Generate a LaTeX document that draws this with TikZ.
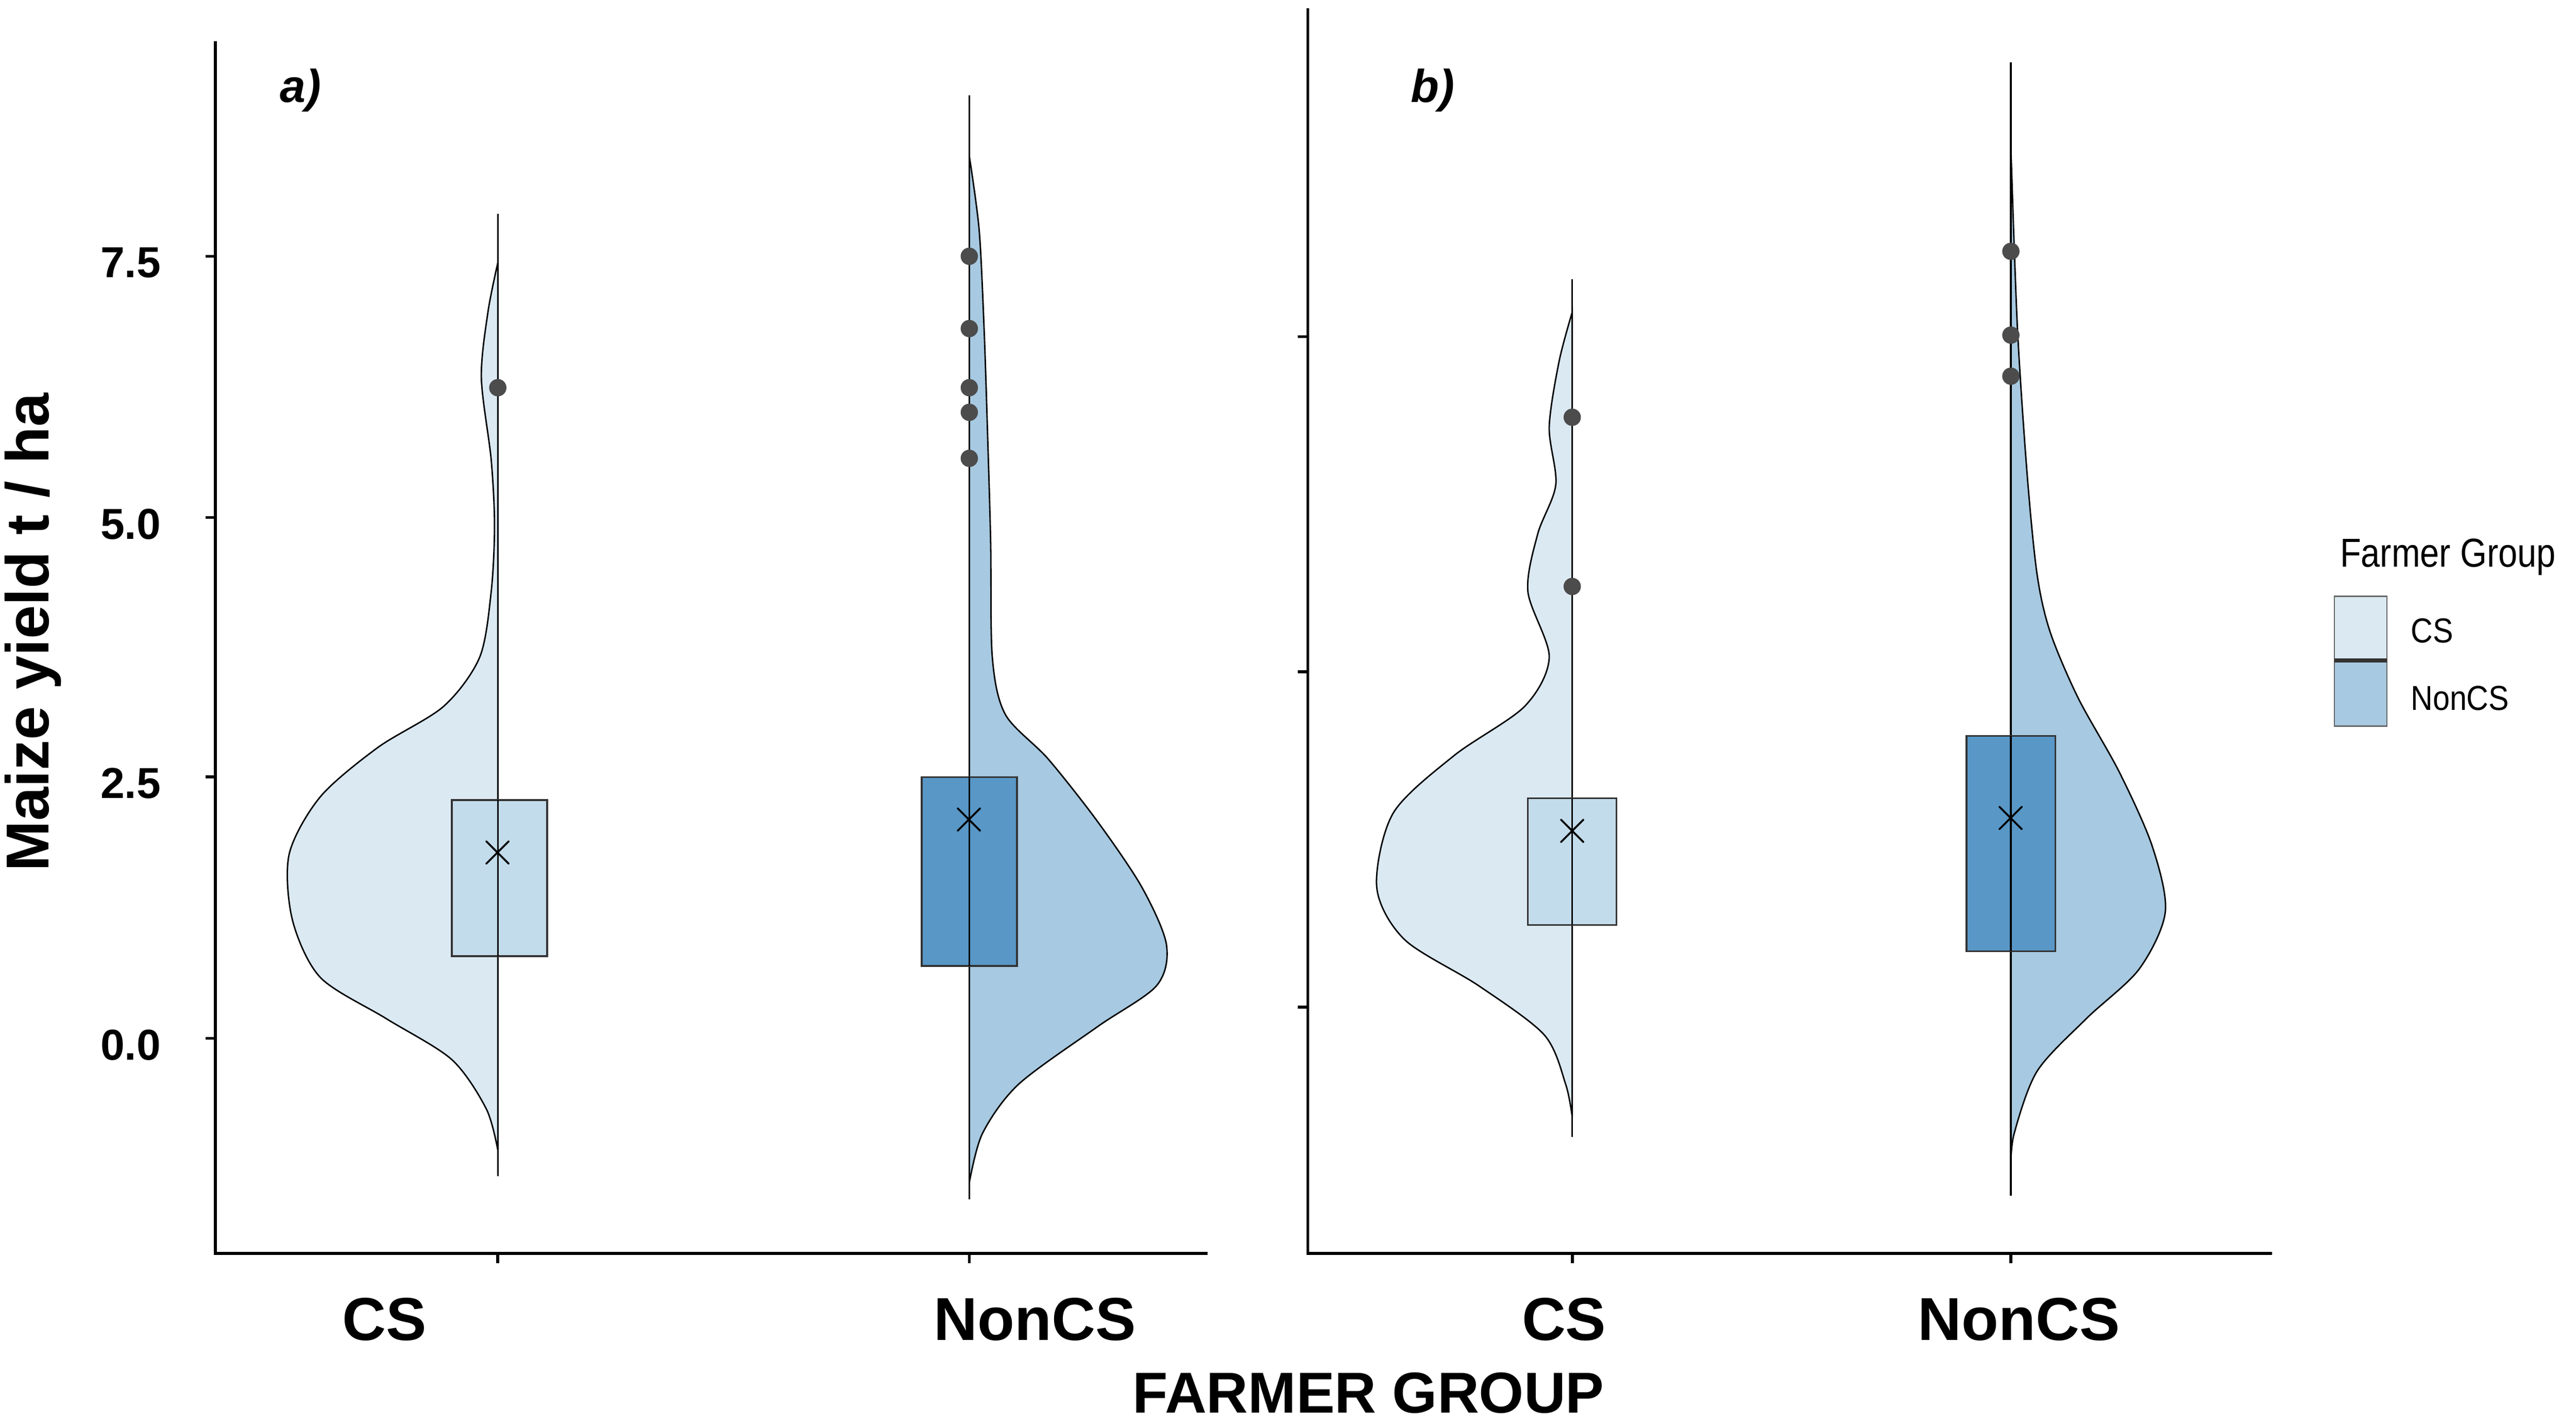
\documentclass[tikz,border=0pt]{standalone}
\usepackage{fontspec}
\setmainfont{Liberation Sans}
\begin{document}
\begin{tikzpicture}[x=0.02cm,y=-0.02cm,
  axis/.style={line width=1pt,black},
  lcs/.style={fill=cslight,draw=black,line width=0.5pt},
  lnon/.style={fill=nonlight,draw=black,line width=0.5pt},
  boxcs/.style={fill=csbox,draw=black!80,line width=0.6pt},
  boxnon/.style={fill=nonbox,draw=black!80,line width=0.6pt},
  pt/.style={circle,fill=black!70,inner sep=0pt,minimum size=6pt},
  cr/.style={inner sep=0pt,font=\fontsize{16}{16}\selectfont},
  tick/.style={font=\bfseries\fontsize{15}{15}\selectfont,anchor=east},
  xl/.style={font=\bfseries\fontsize{21}{21}\selectfont},
  leg/.style={font=\fontsize{12}{12}\selectfont,anchor=west,xscale=0.88}]
\definecolor{cslight}{HTML}{DBE9F3}
\definecolor{nonlight}{HTML}{A7C9E1}
\definecolor{csbox}{HTML}{C3DCEB}
\definecolor{nonbox}{HTML}{5897C6}
\useasboundingbox (0,0) rectangle (1568,868);
% panel a axes
\draw[axis] (131,25) -- (131,763) -- (735,763);
\foreach \y/\t in {156/7.5,315/5.0,473/2.5,632/0.0}{\draw[axis] (125,\y)--(131,\y); \node[tick] at (104,\y+4) {\t};}
\draw[axis] (303,763)--(303,769); \draw[axis] (590,763)--(590,769);
% panel b axes
\draw[axis] (796,5) -- (796,763) -- (1383,763);
\foreach \y in {205,409,613}{\draw[axis] (790,\y)--(796,\y);}
\draw[axis] (957,763)--(957,769); \draw[axis] (1224,763)--(1224,769);
% a CS
\draw[lcs] plot[smooth] coordinates {(303,160)(297,190)(293,230)(299,280)(301,320)(299,360)(292,400)(270,430)(230,455)(195,485)(176,520)(178,560)(195,595)(235,620)(275,645)(296,675)(303,700)} -- cycle;
\draw[line width=0.6pt] (303,130)--(303,716);
\draw[boxcs] (275,487) rectangle (333,582);
\draw[line width=0.6pt] (303,487)--(303,582);
\node[cr] (ca) at (303,519) {$\times$};
\node[pt] (pa1) at (303,236) {};
% a NonCS
\draw[lnon] plot[smooth] coordinates {(590,95)(596,140)(599,200)(601,260)(603,330)(604,400)(612,435)(638,462)(668,500)(695,540)(710,575)(704,600)(668,625)(620,660)(598,690)(590,720)} -- cycle;
\draw[line width=0.6pt] (590,58)--(590,730);
\draw[boxnon] (561,473) rectangle (619,588);
\draw[line width=0.6pt] (590,473)--(590,588);
\node[cr] (na) at (590,499) {$\times$};
\foreach \y [count=\i] in {156,200,236,251,279}{\node[pt] (pn\i) at (590,\y) {};}
% b CS
\draw[lcs] plot[smooth] coordinates {(957,190)(949,220)(943,260)(947,295)(936,325)(930,360)(943,400)(928,430)(885,460)(848,495)(838,540)(855,572)(900,600)(940,630)(953,660)(957,680)} -- cycle;
\draw[line width=0.6pt] (957,170)--(957,692);
\draw[boxcs] (930,486) rectangle (984,563);
\draw[line width=0.6pt] (957,486)--(957,563);
\node[cr] (cb) at (957,506) {$\times$};
\node[pt] (pb1) at (957,254) {};
\node[pt] (pb2) at (957,357) {};
% b NonCS
\draw[lnon] plot[smooth] coordinates {(1224,90)(1228,200)(1234,290)(1240,350)(1248,385)(1265,425)(1290,470)(1310,515)(1318,555)(1302,590)(1270,620)(1240,652)(1226,690)(1224,710)} -- cycle;
\draw[line width=0.6pt] (1224,38)--(1224,728);
\draw[boxnon] (1197,448) rectangle (1251,579);
\draw[line width=0.6pt] (1224,448)--(1224,579);
\node[cr] (nb) at (1224,498) {$\times$};
\foreach \y [count=\i] in {153,204,229}{\node[pt] (pm\i) at (1224,\y) {};}
% labels
\node[font=\bfseries\itshape\fontsize{16}{16}\selectfont] (la) at (183,55) {a)};
\node[font=\bfseries\itshape\fontsize{16}{16}\selectfont] (lb) at (872,55) {b)};
\node[xl] (x1) at (234,803) {CS};
\node[xl] (x2) at (630,803) {NonCS};
\node[xl] (x3) at (952,803) {CS};
\node[xl] (x4) at (1229,803) {NonCS};
\node[font=\bfseries\fontsize{20}{20}\selectfont] (xt) at (833,848) {FARMER GROUP};
\node[font=\bfseries\fontsize{21}{21}\selectfont,rotate=90] (yl) at (20,385) {Maize yield t / ha};
% legend
\node[font=\fontsize{14}{14}\selectfont,xscale=0.85] (lt) at (1490,339) {Farmer Group};
\draw[fill=cslight,draw=black!60] (1421,363) rectangle (1453,402);
\draw[fill=nonlight,draw=black!60] (1421,402) rectangle (1453,442);
\draw[line width=1.5pt,black!80] (1421,402)--(1453,402);
\node[leg] (l1) at (1462,384) {CS};
\node[leg] (l2) at (1462,425) {NonCS};
\end{tikzpicture}
\end{document}
